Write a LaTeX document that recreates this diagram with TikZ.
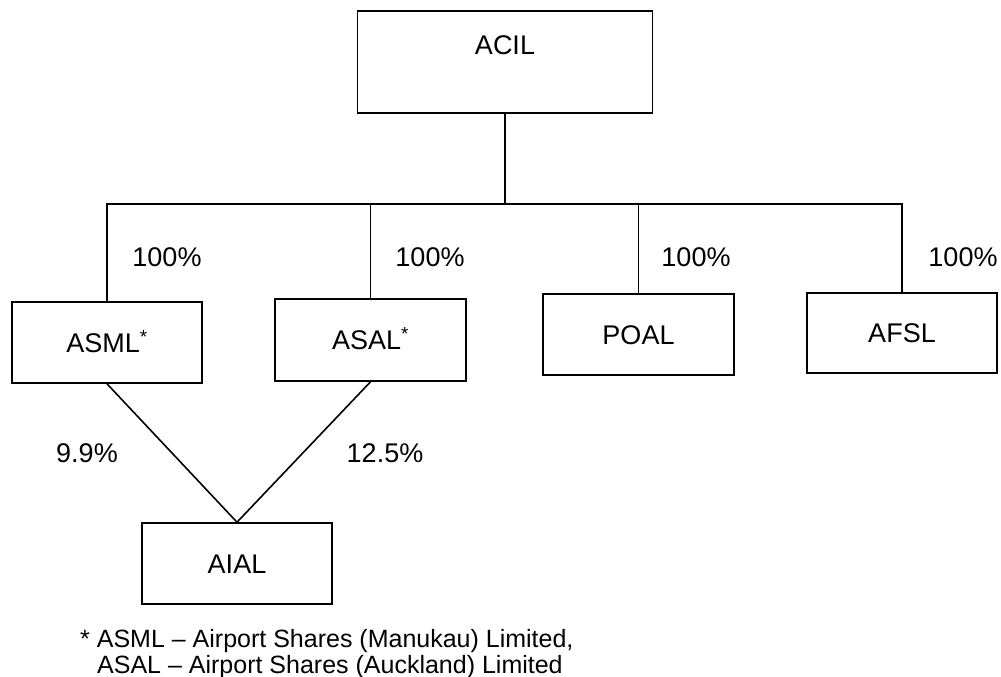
\documentclass[tikz,border=0pt]{standalone}
\usepackage{fontspec}
\setmainfont{Liberation Sans}
\begin{document}
\begin{tikzpicture}[x=1pt,y=-1pt,
  every node/.style={font=\fontsize{27}{32}\selectfont},
  orgbox/.style={draw, line width=1.6pt, inner sep=0pt, text height=19.3pt, text depth=0pt},
  link/.style={line width=1.6pt},
  pct/.style={inner sep=0pt},
  note/.style={inner sep=0pt, anchor=base west, font=\fontsize{25}{30}\selectfont}]
\useasboundingbox (0,0) rectangle (1001,677);
% boxes
\node[draw, line width=1.6pt, inner sep=0pt, minimum width=295pt, text height=44pt, text depth=58pt, anchor=north] (acil) at (505,10) {ACIL};
\node[orgbox, minimum width=190pt, minimum height=81pt] (asml) at (107,342.5) {ASML\textsuperscript{*}};
\node[orgbox, minimum width=191pt, minimum height=82pt] (asal) at (370.5,340) {ASAL\textsuperscript{*}};
\node[orgbox, minimum width=191pt, minimum height=81pt] (poal) at (638.5,334.5) {POAL};
\node[orgbox, minimum width=190pt, minimum height=80pt] (afsl) at (902,333) {AFSL};
\node[orgbox, minimum width=190pt, minimum height=81pt] (aial) at (237,563.5) {AIAL};
% bus
\coordinate (bus) at (505,204);
\draw[link] (acil.south) -- (acil.south |- bus);
\draw[link] (asml.north) -- (asml.north |- bus) -- (afsl.north |- bus) -- (afsl.north);
\draw[link] (asal.north) -- (asal.north |- bus);
\draw[link] (poal.north) -- (poal.north |- bus);
\draw[link] (asml.south) -- (aial.north) -- (asal.south);
% labels
\node[pct] (p1) at (167,257) {100\%};
\node[pct] (p2) at (430,257) {100\%};
\node[pct] (p3) at (696,257) {100\%};
\node[pct] (p4) at (963,257) {100\%};
\node[pct] (p5) at (87,453) {9.9\%};
\node[pct] (p6) at (385,453) {12.5\%};
% footnote
\node[note] (fn1) at (80,647) {* ASML – Airport Shares (Manukau) Limited,};
\node[note] (fn2) at (97,673) {ASAL – Airport Shares (Auckland) Limited};
\end{tikzpicture}
\end{document}
